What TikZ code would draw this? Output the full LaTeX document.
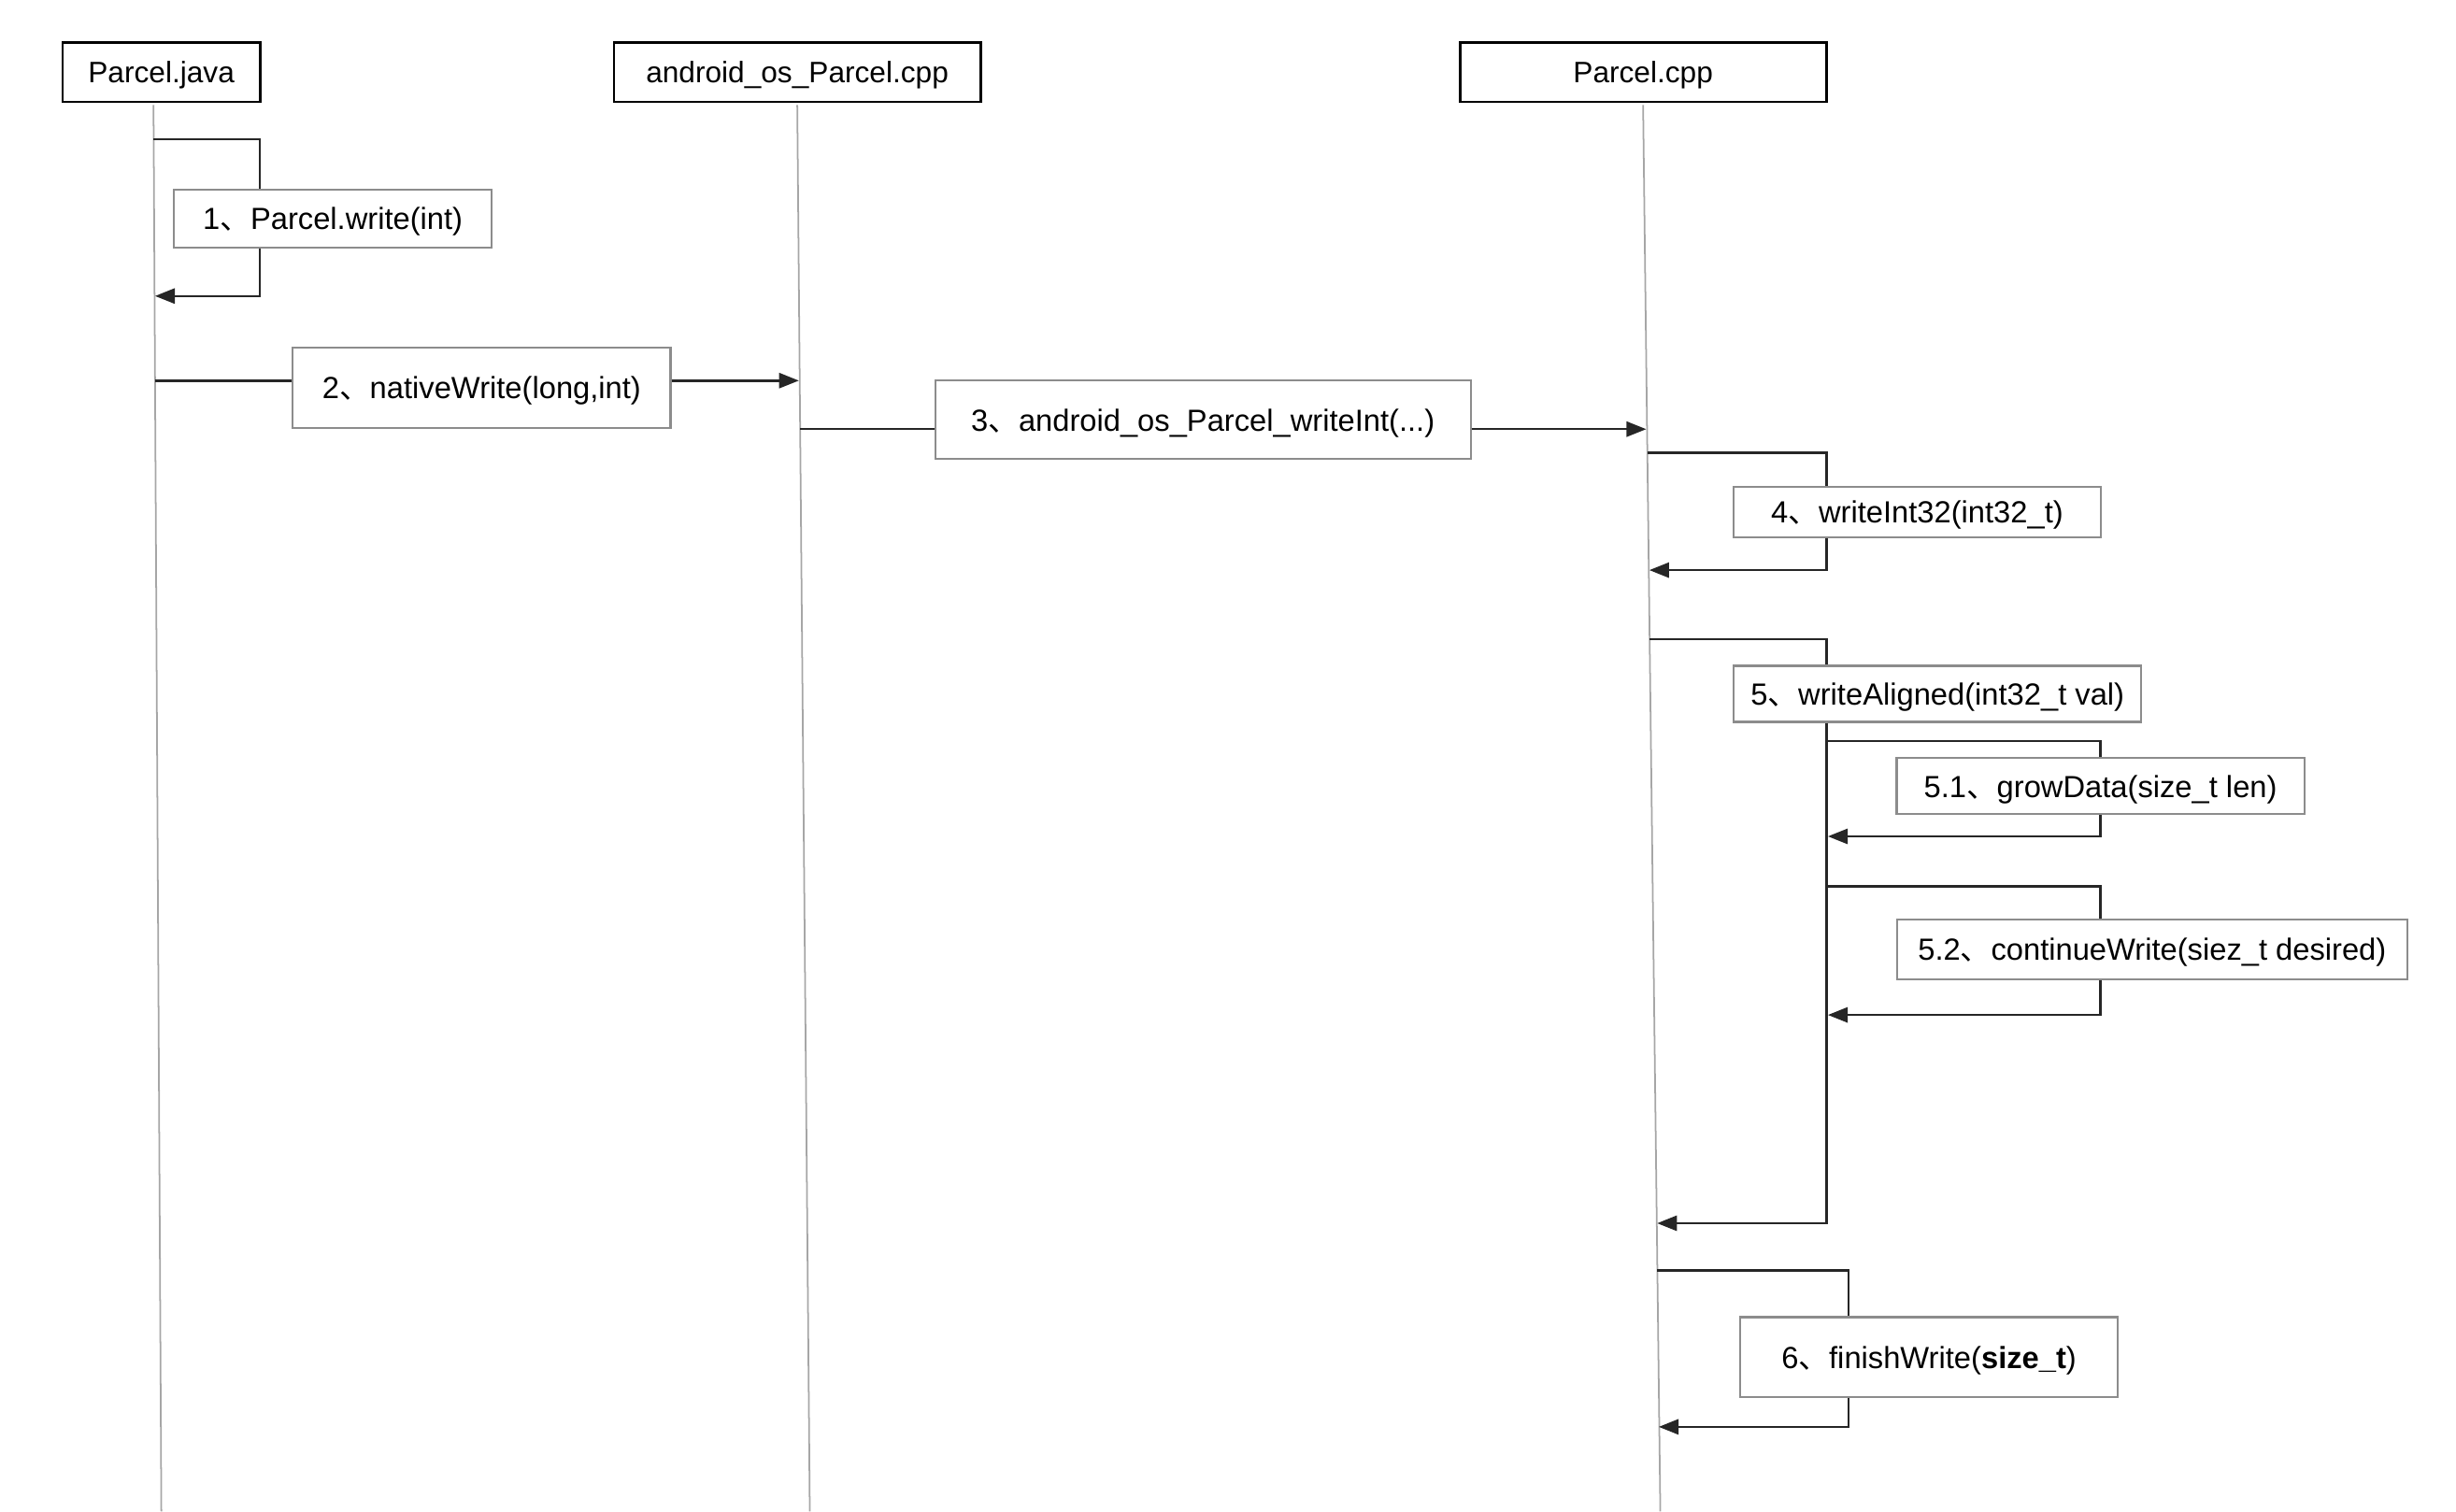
\documentclass[tikz,border=0pt]{standalone}
\usepackage{fontspec}
\setmainfont{Liberation Sans}
\newfontfamily\cjk{Noto Sans CJK SC}
\usetikzlibrary{arrows.meta}
\newcommand{\dun}{{\cjk 、}}

\begin{document}
\begin{tikzpicture}[x=0.01676cm, y=-0.01676cm,
  head/.style={draw=black, line width=0.8pt, minimum height=0.637cm, inner sep=0pt, text depth=0pt, font=\fontsize{9}{11}\selectfont},
  call/.style={draw=black!45, line width=0.6pt, fill=white, inner sep=0pt, text depth=0pt, font=\fontsize{9.3}{11}\selectfont},
  life/.style={black!35, line width=0.5pt},
  msg/.style={black!85, line width=0.7pt},
  ret/.style={msg, -{Triangle[length=6pt, width=4.6pt]}}]

\useasboundingbox (0,0) rectangle (1568,965);

% ── Participants ──
\node[head, minimum width=2.11cm] (java) at (103,46) {Parcel.java};
\node[head, minimum width=3.92cm] (jni) at (509,46) {android\_os\_Parcel.cpp};
\node[head, minimum width=3.92cm] (cpp) at (1049,46) {Parcel.cpp};

% ── Lifelines ──
\coordinate (javatop) at (98,67);    \coordinate (javabot) at (103,965);
\coordinate (jnitop)  at (509,67);   \coordinate (jnibot)  at (517,965);
\coordinate (cpptop)  at (1049,67);  \coordinate (cppbot)  at (1060,965);
\draw[life] (javatop) -- (javabot);
\draw[life] (jnitop) -- (jnibot);
\draw[life] (cpptop) -- (cppbot);

% ── Call labels ──
\node[call, minimum width=3.40cm, minimum height=0.62cm]  (m1)  at (212.5,139.5) {1\dun Parcel.write(int)};
\node[call, minimum width=4.04cm, minimum height=0.855cm] (m2)  at (307.5,247.5) {2\dun nativeWrite(long,int)};
\node[call, minimum width=5.73cm, minimum height=0.84cm]  (m3)  at (768,268)     {3\dun android\_os\_Parcel\_writeInt(...)};
\node[call, minimum width=3.92cm, minimum height=0.536cm] (m4)  at (1224,327)    {4\dun writeInt32(int32\_t)};
\node[call, minimum width=4.36cm, minimum height=0.60cm]  (m5)  at (1237,443)    {5\dun writeAligned(int32\_t val)};
\node[call, minimum width=4.36cm, minimum height=0.60cm]  (m51) at (1341,502)    {5.1\dun growData(size\_t len)};
\node[call, minimum width=5.46cm, minimum height=0.64cm]  (m52) at (1374,606)    {5.2\dun continueWrite(siez\_t desired)};
\node[call, minimum width=4.04cm, minimum height=0.855cm] (m6)  at (1231.5,866.5) {6\dun finishWrite(\textbf{size\_t})};

% 1 self call
\coordinate (s1) at (98,89);  \coordinate (k1) at (166,89);  \coordinate (e1) at (99,189);
\draw[msg] (s1) -- (k1) -- (k1 |- m1.north);
\draw[ret] (k1 |- m1.south) |- (e1);

% 2 java -> jni
\coordinate (s2) at (99,243);  \coordinate (e2) at (510,243);
\draw[msg] (s2) -- (s2 -| m2.west);
\draw[ret] (m2.east |- s2) -- (e2);

% 3 jni -> cpp
\coordinate (s3) at (511,274);  \coordinate (e3) at (1051,274);
\draw[msg] (s3) -- (s3 -| m3.west);
\draw[ret] (m3.east |- s3) -- (e3);

% 4 self call
\coordinate (s4) at (1052,289);  \coordinate (k4) at (1166,289);  \coordinate (e4) at (1053,364);
\draw[msg] (s4) -- (k4) -- (k4 |- m4.north);
\draw[ret] (k4 |- m4.south) |- (e4);

% 5 self call, with 5.1 and 5.2 inside
\coordinate (s5) at (1053,408);  \coordinate (k5) at (1166,408);  \coordinate (e5) at (1058,781);
\draw[msg] (s5) -- (k5) -- (k5 |- m5.north);
\draw[ret] (k5 |- m5.south) |- (e5);

\coordinate (s51) at (1166,473);  \coordinate (k51) at (1341,473);  \coordinate (e51) at (1167,534);
\draw[msg] (s51) -- (k51) -- (k51 |- m51.north);
\draw[ret] (k51 |- m51.south) |- (e51);

\coordinate (s52) at (1166,566);  \coordinate (k52) at (1341,566);  \coordinate (e52) at (1167,648);
\draw[msg] (s52) -- (k52) -- (k52 |- m52.north);
\draw[ret] (k52 |- m52.south) |- (e52);

% 6 self call
\coordinate (s6) at (1058,811);  \coordinate (k6) at (1180,811);  \coordinate (e6) at (1059,911);
\draw[msg] (s6) -- (k6) -- (k6 |- m6.north);
\draw[ret] (k6 |- m6.south) |- (e6);

\end{tikzpicture}
\end{document}
